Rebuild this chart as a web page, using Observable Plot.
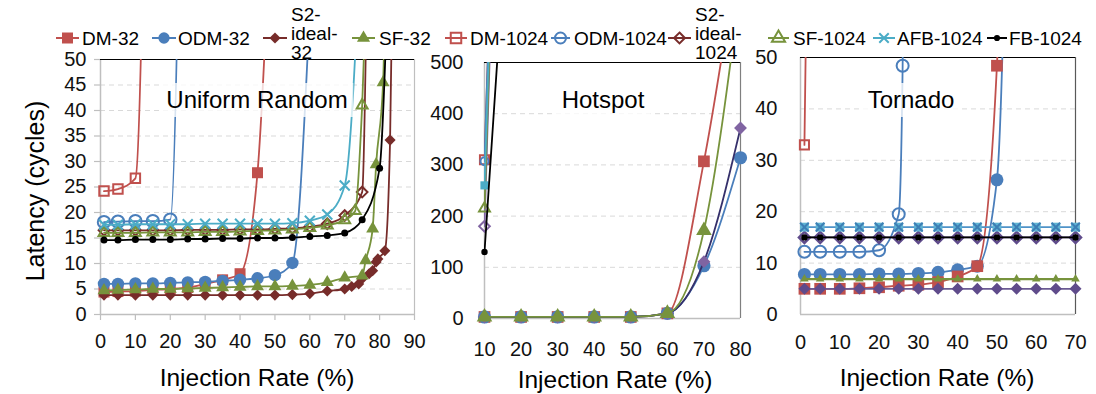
<!DOCTYPE html>
<html><head><meta charset="utf-8">
<script src="https://cdn.jsdelivr.net/npm/d3@7"></script>
<script src="https://cdn.jsdelivr.net/npm/@observablehq/plot@0.6"></script>
<style>
body{margin:0;background:#fff;}
#root{position:relative;width:1096px;height:394px;overflow:hidden;background:#fff;font-family:"Liberation Sans",Arial,sans-serif;color:#000;}
.panel{position:absolute;top:0;}
.ttl{position:absolute;font-size:24.5px;white-space:nowrap;transform:translate(-50%,-50%);line-height:1;}
.note{position:absolute;font-size:24px;white-space:nowrap;transform:translate(-50%,-50%);background:rgba(255,255,255,0.78);padding:5px 6px;line-height:1;}
</style></head><body><div id="root"></div>
<script>
// ---------- DATA ----------
const legendLabels = ["DM-32","ODM-32","S2-ideal-32","SF-32","DM-1024","ODM-1024","S2-ideal-1024","SF-1024","AFB-1024","FB-1024"];

// Uniform Random  [injection rate %, latency cycles]
const urDM32   = [[1,4.4],[5,4.5],[10,4.6],[15,4.8],[20,5.0],[25,5.3],[30,6.0],[35,6.8],[40,8.0],[45,27.8],[50,100]];
const urODM32  = [[1,6.0],[5,6.0],[10,6.1],[15,6.1],[20,6.2],[25,6.3],[30,6.4],[35,6.6],[40,6.8],[45,7.1],[50,7.7],[55,10.1],[60,60]];
const urS2_32  = [[1,3.8],[5,3.8],[10,3.8],[15,3.8],[20,3.8],[25,3.8],[30,3.8],[35,3.8],[40,3.8],[45,3.8],[50,3.8],[55,3.9],[60,4.1],[65,4.6],[70,5.0],[72,5.5],[74,6.0],[75,7.0],[77,8.0],[78,8.6],[79,10.3],[79.5,10.9],[81.5,12.5],[83,34.2],[84,80]];
const urSF32   = [[1,4.7],[5,4.8],[10,4.9],[15,5.0],[20,5.0],[25,5.1],[30,5.2],[35,5.3],[40,5.4],[45,5.5],[50,5.5],[55,5.6],[60,5.8],[65,6.3],[70,7.2],[75,7.6],[76,10.6],[78,16.8],[79,29.4],[81,45.5],[82,80]];
const urDM1024 = [[1,24.2],[5,24.6],[10,26.7],[15,200]];
const urODM1024= [[1,18.1],[5,18.2],[10,18.3],[15,18.3],[20,18.6],[25,200]];
const urS2_1024= [[1,16.5],[5,16.5],[10,16.5],[15,16.5],[20,16.5],[25,16.6],[30,16.6],[35,16.6],[40,16.7],[45,16.7],[50,16.8],[55,16.9],[60,17.2],[65,17.8],[70,19.4],[75,24.0],[77,100]];
const urSF1024 = [[1,16.0],[5,16.0],[10,16.0],[15,16.1],[20,16.1],[25,16.1],[30,16.2],[35,16.2],[40,16.3],[45,16.4],[50,16.5],[55,16.7],[60,17.0],[65,17.5],[70,18.5],[73,20.3],[75,41.0],[77,80]];
const urAFB1024= [[1,17.6],[5,17.6],[10,17.7],[15,17.7],[20,17.7],[25,17.7],[30,17.8],[35,17.8],[40,17.8],[45,17.8],[50,17.8],[55,17.9],[60,18.4],[65,19.6],[70,25.3],[75,80]];
const urFB1024 = [[1,14.6],[5,14.6],[10,14.7],[15,14.7],[20,14.7],[25,14.8],[30,14.8],[35,14.9],[40,14.9],[45,15.0],[50,15.0],[55,15.1],[60,15.3],[65,15.5],[70,16.0],[75,18.6],[80,28.7],[83,80]];

// Hotspot
const hsDM32   = [[10,3],[20,3],[30,3],[40,3],[50,3],[60,10],[70,307],[80,750]];
const hsODM32  = [[10,3],[20,3],[30,3],[40,3],[50,3],[60,10],[70,103],[80,314]];
const hsS2_32  = [[10,3],[20,3],[30,3],[40,3],[50,3],[60,10],[70,111],[80,372]];
const hsSF32   = [[10,3],[20,3],[30,3],[40,3],[50,3],[60,10],[70,172],[80,650]];
const hsDM1024 = [[10,310],[20,2500]];
const hsODM1024= [[10,307],[20,2500]];
const hsS2_1024= [[10,180],[20,2500]];
const hsSF1024 = [[10,215],[20,2500]];
const hsAFB1024= [[10,260],[20,2500]];
const hsFB1024 = [[10,130],[20,1200]];

// Tornado
const tnX        = [1,5,10,15,20,25,30,35,40,45,50,55,60,65,70];
const tnS2_32Y   = [5.0,5.0,5.0,5.0,5.0,5.0,5.0,5.0,5.0,5.0,5.0,5.0,5.0,5.0,5.0];
const tnSF32Y    = [6.9,6.9,6.9,6.9,6.9,6.9,6.9,6.9,6.9,6.9,6.9,6.9,6.9,6.9,6.9];
const tnS2_1024Y = [15.0,15.0,15.0,15.0,15.0,15.0,15.0,15.0,15.0,15.0,15.0,15.0,15.0,15.0,15.0];
const tnAFB1024Y = [17.0,17.0,17.0,17.0,17.0,17.0,17.0,17.0,17.0,17.0,17.0,17.0,17.0,17.0,17.0];
const tnFB1024Y  = [15.0,15.0,15.0,15.0,15.0,15.0,15.0,15.0,15.0,15.0,15.0,15.0,15.0,15.0,15.0];
const tnDM32   = [[1,5.0],[5,5.0],[10,5.0],[15,5.1],[20,5.3],[25,5.6],[30,5.8],[35,6.3],[40,7.4],[45,9.4],[50,48.4],[55,300]];
const tnODM32  = [[1,7.8],[5,7.8],[10,7.8],[15,7.8],[20,7.9],[25,7.9],[30,8.0],[35,8.2],[40,8.7],[45,9.4],[50,26.2],[55,200]];
const tnDM1024 = [[1,33.0],[5,260]];
const tnODM1024= [[1,12.2],[5,12.2],[10,12.2],[15,12.2],[20,12.5],[25,19.5],[26,48.4],[27,150]];

// ticks
const urXTicks = [0,10,20,30,40,50,60,70,80,90];
const urYTicks = [0,5,10,15,20,25,30,35,40,45,50];
const hsXTicks = [10,20,30,40,50,60,70,80];
const hsYTicks = [0,100,200,300,400,500];
const tnXTicks = [0,10,20,30,40,50,60,70];
const tnYTicks = [0,10,20,30,40,50];

// ---------- STYLE ----------
const C = {red:"#c0504d", blue:"#4a7ebb", dred:"#772c2a", green:"#77933c", cyan:"#4bacc6", black:"#000000",
           purple:"#8064a2", navy:"#35306b", dpurple:"#5f4b8b"};
const zip = (xs, ys) => xs.map((x,i)=>[x, ys[i]]);

function S(pts, color, symbol, r, opts={}) {
  return Object.assign({pts, color, symbol, r, lineColor: color, fill: color, stroke: "none", sw: 1}, opts);
}
const open = (c) => ({fill:"none", stroke:c, sw:2});

const root = document.getElementById("root");
const FONT = '"Liberation Sans", Arial, sans-serif';

function panel(cfg) {
  const [x0,x1] = cfg.x, [y0,y1] = cfg.y;
  const marks = [
    Plot.gridY(cfg.grid, {stroke:"#d9d9d9", strokeOpacity:1, strokeDasharray:"5,4", strokeWidth:1}),
    Plot.ruleX([x0], {stroke:"#bfbfbf", strokeWidth:1.5}),
    Plot.ruleY([y0], {stroke:"#bfbfbf", strokeWidth:1.5}),
    Plot.ruleX([x1], {stroke:cfg.rightColor, strokeWidth:1.2}),
    Plot.ruleY([y1], {stroke:"#000", strokeWidth:1.2}),
    Plot.axisX(cfg.xTicks, {tickSize:cfg.xTickSize, tickPadding:cfg.xPad, fontSize:20, stroke:"#bfbfbf", fill:"#111", strokeWidth:1.2}),
    Plot.axisY(cfg.yTicks, {tickSize:cfg.yTickSize, tickPadding:cfg.yPad, fontSize:20, stroke:"#bfbfbf", fill:"#111", strokeWidth:1.2})
  ];
  for (const s of cfg.series) {
    marks.push(Plot.line(s.pts, {x:d=>d[0], y:d=>d[1], stroke:s.lineColor, strokeWidth:s.lw || 1.8, curve:"monotone-x", clip:true}));
    const vis = s.pts.filter(d => d[1] <= y1);
    if (s.under) marks.push(Plot.dot(vis, {x:d=>d[0], y:d=>d[1], symbol:s.under.symbol, r:s.under.r, fill:s.under.fill, stroke:"none"}));
    marks.push(Plot.dot(vis, {x:d=>d[0], y:d=>d[1], symbol:s.symbol, r:s.r, fill:s.fill, stroke:s.stroke, strokeWidth:s.sw}));
  }
  const svg = Plot.plot({
    width: cfg.width, height: 394,
    marginLeft: cfg.ml, marginRight: cfg.mr, marginTop: cfg.mt, marginBottom: cfg.mb,
    x: {domain: cfg.x, label: null},
    y: {domain: cfg.y, label: null},
    style: {background:"transparent", fontFamily: FONT, fontSize:"20px", overflow:"visible", color:"#111"},
    marks
  });
  svg.classList.add("panel");
  svg.style.left = cfg.left + "px";
  svg.style.position = "absolute";
  svg.style.top = "0px";
  svg.style.maxWidth = "none";
  root.appendChild(svg);
}

// Panel 1: Uniform Random
panel({
  left:0, width:440, ml:100, mr:26, mt:59, mb:80,
  x:[0,90], y:[0,50], xTicks:urXTicks, yTicks:urYTicks, grid:[5,10,15,20,25,30,35,40,45],
  xTickSize:6, xPad:13, yTickSize:6, yPad:8, rightColor:"#bfbfbf",
  series:[
    S(urDM32, C.red, "square", 6.2),
    S(urODM32, C.blue, "circle", 6.2),
    S(urS2_32, C.dred, "diamond2", 5),
    S(urSF32, C.green, "triangle", 4.8),
    S(urDM1024, C.red, "square2", 6, open(C.red)),
    S(urODM1024, C.blue, "circle", 6.2, open(C.blue)),
    S(urS2_1024, C.dred, "diamond2", 4.8, open(C.dred)),
    S(urSF1024, C.green, "triangle2", 5.2, open(C.green)),
    S(urAFB1024, C.cyan, "times", 4.6, {fill:"none", stroke:C.cyan, sw:2}),
    S(urFB1024, C.black, "circle", 3.5)
  ]
});

// Panel 2: Hotspot
panel({
  left:420, width:340, ml:64, mr:20, mt:62, mb:76,
  x:[10,80], y:[0,500], xTicks:hsXTicks, yTicks:hsYTicks, grid:[100,200,300,400],
  xTickSize:0, xPad:23, yTickSize:0, yPad:21, rightColor:"#7f7f7f",
  series:[
    S(hsDM32, C.red, "square", 6.6),
    S(hsODM32, C.blue, "circle", 6.6),
    S(hsS2_32, C.purple, "diamond2", 5.8, {lineColor:C.navy}),
    S(hsSF32, C.green, "triangle", 5.8),
    S(hsDM1024, C.red, "square2", 5.8, open(C.red)),
    S(hsODM1024, C.blue, "circle", 4, open(C.blue)),
    S(hsS2_1024, C.purple, "diamond2", 4.8, open(C.purple)),
    S(hsSF1024, C.green, "triangle2", 5.2, open(C.green)),
    S(hsAFB1024, C.cyan, "square", 4.6, {lineColor:C.cyan}),
    S(hsFB1024, C.black, "circle", 3.2)
  ]
});

// Panel 3: Tornado
panel({
  left:740, width:356, ml:60, mr:21, mt:57, mb:80,
  x:[0,70], y:[0,50], xTicks:tnXTicks, yTicks:tnYTicks, grid:[10,20,30,40],
  xTickSize:0, xPad:20, yTickSize:0, yPad:23, rightColor:"#595959",
  series:[
    S(tnODM32, C.blue, "circle", 6.5),
    S(tnDM32, C.red, "square", 6.6),
    S(zip(tnX, tnS2_32Y), C.dpurple, "diamond2", 5.4, {lineColor:"#6a5a92"}),
    S(zip(tnX, tnSF32Y), C.green, "triangle", 3.2, {lw:2.2}),
    S(tnDM1024, C.red, "square2", 5.8, open(C.red)),
    S(tnODM1024, C.blue, "circle", 6, open(C.blue)),
    S(zip(tnX, tnS2_1024Y), C.dpurple, "diamond2", 5, Object.assign(open(C.dpurple), {sw:2.4})),
    S(zip(tnX, tnAFB1024Y), "#3d8bbf", "times", 4, {fill:"none", stroke:"#3d7fb5", sw:2, lineColor:"#4f93c8", under:{symbol:"square", r:5, fill:"#5fb3d3"}}),
    S(zip(tnX, tnFB1024Y), C.black, "circle", 3.2)
  ]
});

// ---------- LEGEND ----------
const legendPos = [[56,79,82],[152,176,178],[263,287,291],[352,375,379],[445,467,470],[551,570,574],[668,691,695],[768,789,793],[873,895,897],[987,1007,1009]];
const legendSym = [
  {t:d3.symbolSquare, a:121, fill:C.red, stroke:"none", line:C.red},
  {t:d3.symbolCircle, a:100, fill:C.blue, stroke:"none", line:C.blue},
  {t:d3.symbolDiamond2 || d3.symbolDiamond, a:80, fill:C.dred, stroke:"none", line:C.dred},
  {t:d3.symbolTriangle, a:75, fill:C.green, stroke:"none", line:C.green},
  {t:d3.symbolSquare, a:110, fill:"none", stroke:C.red, line:C.red},
  {t:d3.symbolCircle, a:95, fill:"none", stroke:C.blue, line:C.blue},
  {t:d3.symbolDiamond2 || d3.symbolDiamond, a:75, fill:"none", stroke:C.dred, line:C.dred},
  {t:d3.symbolTriangle, a:75, fill:"none", stroke:C.green, line:C.green},
  {t:d3.symbolTimes, a:60, fill:"none", stroke:C.cyan, line:C.cyan},
  {t:d3.symbolCircle, a:30, fill:C.black, stroke:"none", line:C.black}
];
const lg = d3.select(root).append("svg").attr("width",1096).attr("height",64)
  .style("position","absolute").style("left","0px").style("top","0px").style("overflow","visible");
const LY = 38;
legendLabels.forEach((lab, i) => {
  const [a,b,tx] = legendPos[i], s = legendSym[i];
  const g = lg.append("g");
  const cx = (a+b)/2;
  g.append("path").attr("d", d3.symbol(s.t, s.a)()).attr("transform",`translate(${cx},${LY})`)
    .attr("fill", s.fill).attr("stroke", s.stroke).attr("stroke-width", 2);
  g.append("line").attr("x1",a).attr("x2",b).attr("y1",LY).attr("y2",LY).attr("stroke",s.line).attr("stroke-width",2);
  if (s.fill !== "none") g.select("line").lower();
  const t = g.append("text").attr("x",tx).attr("font-family",FONT).attr("font-size",19).attr("fill","#000");
  if (lab.startsWith("S2-ideal")) {
    const parts = ["S2-","ideal-", lab.slice(9)];
    parts.forEach((p,k)=> t.append("tspan").attr("x",tx).attr("y", 21 + k*19).text(p));
  } else {
    t.attr("y", LY+7).text(lab);
  }
});

// ---------- TITLES ----------
function addDiv(cls, text, x, y, extra) {
  const d = document.createElement("div");
  d.className = cls; d.textContent = text;
  d.style.left = x + "px"; d.style.top = y + "px";
  if (extra) Object.assign(d.style, extra);
  root.appendChild(d);
}
addDiv("ttl", "Latency (cycles)", 35, 191, {transform:"translate(-50%,-50%) rotate(-90deg)", fontSize:"25px"});
addDiv("ttl", "Injection Rate (%)", 257, 378);
addDiv("ttl", "Injection Rate (%)", 615, 380);
addDiv("ttl", "Injection Rate (%)", 937, 378);
addDiv("note", "Uniform Random", 257, 100);
addDiv("note", "Hotspot", 603, 100);
addDiv("note", "Tornado", 911, 100);
</script></body></html>
